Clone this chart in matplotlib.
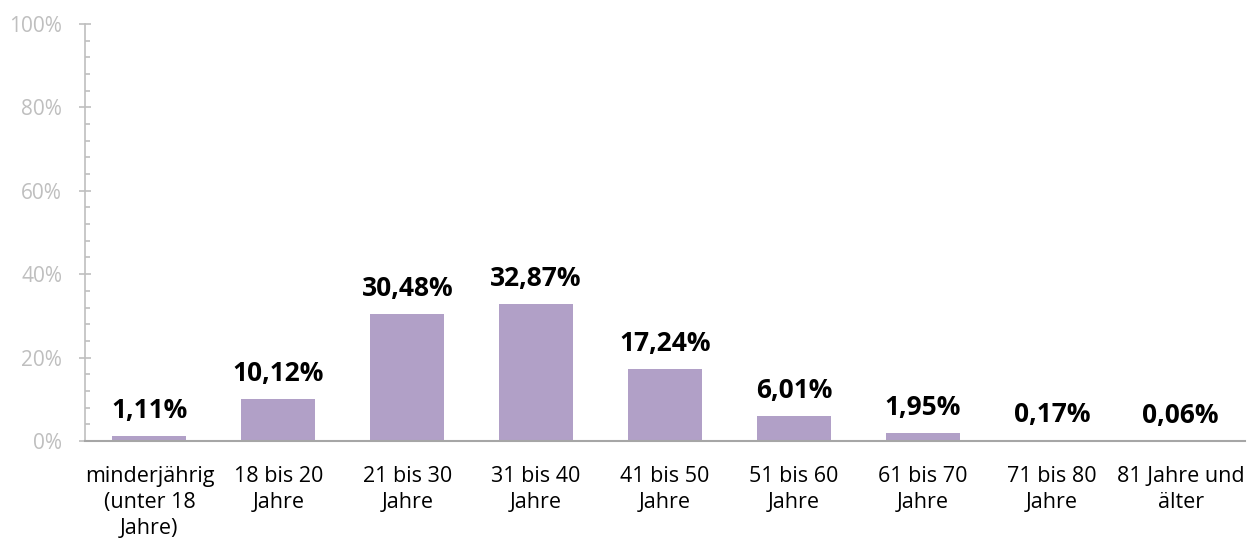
import matplotlib
matplotlib.use("Agg")
import matplotlib.pyplot as plt
from matplotlib.ticker import MultipleLocator, FuncFormatter

categories = ["minderjährig\n(unter 18\nJahre)", "18 bis 20\nJahre", "21 bis 30\nJahre",
              "31 bis 40\nJahre", "41 bis 50\nJahre", "51 bis 60\nJahre",
              "61 bis 70\nJahre", "71 bis 80\nJahre", "81 Jahre und\nälter"]
values = [1.11, 10.12, 30.48, 32.87, 17.24, 6.01, 1.95, 0.17, 0.06]
labels = ["1,11%", "10,12%", "30,48%", "32,87%", "17,24%", "6,01%", "1,95%", "0,17%", "0,06%"]

plt.rcParams['font.family'] = ['Open Sans', 'DejaVu Sans']

fig = plt.figure(figsize=(12.57, 5.4), dpi=100)
ax = fig.add_axes([0.0676, 0.1835, 0.923, 0.772])

x = list(range(len(categories)))
bars = ax.bar(x, values, width=0.575, color="#b1a0c7", zorder=2)
for xi, v, lab in zip(x, values, labels):
    ax.annotate(lab, (xi, v), xytext=(0, 8.5), textcoords="offset points",
                ha="center", va="bottom", fontsize=19, fontweight="bold", color="black")

ax.set_xlim(-0.5, len(categories) - 0.5)
ax.set_ylim(0, 100)
ax.yaxis.set_major_locator(MultipleLocator(20))
ax.yaxis.set_minor_locator(MultipleLocator(4))
ax.yaxis.set_major_formatter(FuncFormatter(lambda v, p: f"{int(v)}%"))
ax.tick_params(axis="y", which="major", direction="inout", length=9, color="#bfbfbf",
               labelcolor="#bfbfbf", labelsize=15, width=1.2, pad=12)
ax.tick_params(axis="y", which="minor", direction="in", length=3.6, color="#bfbfbf", width=1.2)
ax.set_xticks(x)
ax.set_xticklabels(categories, fontsize=15.5, color="black", linespacing=1.32)
ax.tick_params(axis="x", length=0, pad=18)

for s in ["top", "right"]:
    ax.spines[s].set_visible(False)
ax.spines["left"].set_color("#bfbfbf")
ax.spines["left"].set_linewidth(1.2)
ax.spines["bottom"].set_color("#a6a6a6")
ax.spines["bottom"].set_linewidth(1.5)
ax.spines["bottom"].set_zorder(3)

fig.savefig("out.png", dpi=100)
